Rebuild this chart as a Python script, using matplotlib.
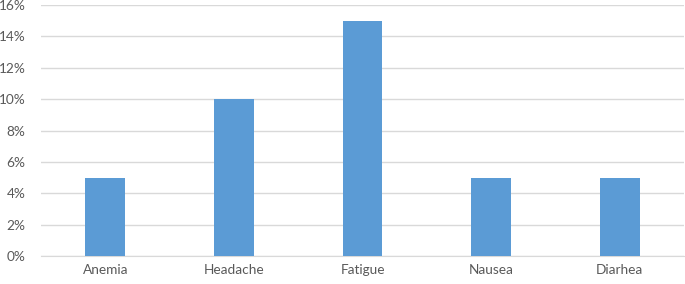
import numpy as np
import matplotlib
matplotlib.use('Agg')
import matplotlib.pyplot as plt
from matplotlib.ticker import PercentFormatter

categories = ['Anemia', 'Headache', 'Fatigue', 'Nausea', 'Diarhea']
values = [5, 10, 15, 5, 5]  # percent

plt.rcParams['font.family'] = ['Lato', 'DejaVu Sans']

fig = plt.figure(figsize=(6.85, 2.84), dpi=100)
ax = fig.add_axes([41/685, 1 - 256/284, 643/685, 251/284])

x = np.arange(len(categories))
ax.bar(x, values, width=0.31, color='#5B9BD5', zorder=3)

ax.set_xlim(-0.5, len(categories) - 0.5)
ax.set_ylim(0, 16)
ax.set_yticks(np.arange(0, 17, 2))
ax.yaxis.set_major_formatter(PercentFormatter(decimals=0))
ax.set_xticks(x)
ax.set_xticklabels(categories)

ax.grid(axis='y', color='#D9D9D9', linewidth=1, zorder=0)
for s in ['top', 'right', 'left']:
    ax.spines[s].set_visible(False)
ax.spines['bottom'].set_color('#D9D9D9')
ax.tick_params(length=0, labelsize=9.8, colors='#595959')
ax.tick_params(axis='y', pad=11)
ax.tick_params(axis='x', pad=6)

fig.savefig('out.png', dpi=100)
